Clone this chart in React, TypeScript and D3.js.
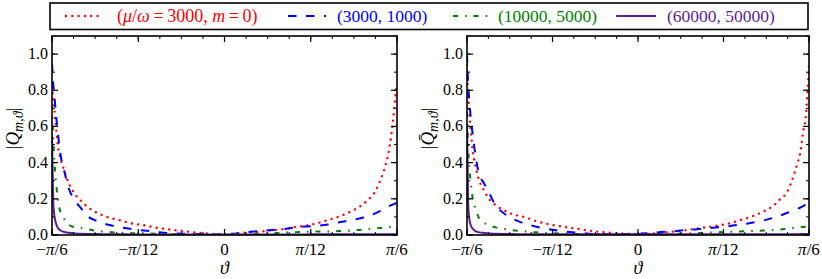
import React from "react";
import * as d3 from "d3";

// theta sample grid in degrees (−π/6 … π/6)
const thetaDeg = [-30, -29.8, -29.6, -29.4, -29, -28.5, -28, -27, -26, -25, -24, -22, -20, -18, -16, -14, -12, -10, -8, -6, -4, -2, 0, 2, 4, 6, 8, 10, 12, 14, 16, 18, 20, 22, 24, 25, 26, 27, 28, 28.5, 29, 29.4, 29.7, 30];

// left panel |Q_{m,θ}|
const qRed = [0.82, 0.76, 0.7, 0.63, 0.5, 0.42, 0.37, 0.28, 0.225, 0.19, 0.16, 0.12, 0.096, 0.08, 0.063, 0.054, 0.041, 0.032, 0.024, 0.017, 0.011, 0.006, 0.003, 0.008, 0.014, 0.018, 0.025, 0.032, 0.043, 0.051, 0.064, 0.083, 0.103, 0.13, 0.168, 0.195, 0.23, 0.295, 0.385, 0.45, 0.55, 0.66, 0.76, 0.84];
const qBlue = [0.95, 0.84, 0.78, 0.7, 0.57, 0.44, 0.37, 0.25, 0.19, 0.15, 0.11, 0.075, 0.055, 0.043, 0.032, 0.025, 0.018, 0.011, 0.008, 0.006, 0.004, 0.003, 0.003, 0.009, 0.016, 0.021, 0.027, 0.032, 0.04, 0.047, 0.051, 0.058, 0.07, 0.083, 0.095, 0.108, 0.117, 0.132, 0.15, 0.158, 0.165, 0.17, 0.174, 0.177];
const qGreen = [0.72, 0.55, 0.42, 0.33, 0.2, 0.125, 0.095, 0.055, 0.043, 0.04, 0.033, 0.022, 0.016, 0.013, 0.01, 0.009, 0.007, 0.005, 0.004, 0.003, 0.003, 0.002, 0.002, 0.004, 0.006, 0.008, 0.009, 0.012, 0.015, 0.017, 0.019, 0.019, 0.022, 0.024, 0.03, 0.032, 0.036, 0.039, 0.042, 0.044, 0.045, 0.046, 0.047, 0.048];
const qPurple = [0.55, 0.2, 0.11, 0.075, 0.04, 0.025, 0.018, 0.012, 0.009, 0.007, 0.006, 0.005, 0.004, 0.004, 0.003, 0.003, 0.003, 0.003, 0.003, 0.003, 0.003, 0.003, 0.003, 0.003, 0.003, 0.003, 0.003, 0.003, 0.003, 0.003, 0.004, 0.004, 0.004, 0.004, 0.004, 0.004, 0.004, 0.004, 0.004, 0.004, 0.004, 0.004, 0.004, 0.004];

// right panel |Q̄_{m,θ}|
const qBarRed = [0.94, 0.78, 0.68, 0.6, 0.47, 0.38, 0.315, 0.245, 0.195, 0.166, 0.145, 0.115, 0.1, 0.078, 0.062, 0.05, 0.04, 0.031, 0.022, 0.015, 0.01, 0.007, 0.005, 0.007, 0.012, 0.018, 0.025, 0.034, 0.043, 0.052, 0.064, 0.083, 0.103, 0.13, 0.168, 0.2, 0.23, 0.3, 0.4, 0.46, 0.574, 0.645, 0.77, 0.94];
const qBarBlue = [1.0, 0.83, 0.75, 0.67, 0.555, 0.44, 0.35, 0.285, 0.225, 0.165, 0.132, 0.09, 0.064, 0.047, 0.034, 0.024, 0.016, 0.011, 0.006, 0.005, 0.004, 0.005, 0.006, 0.011, 0.016, 0.02, 0.026, 0.031, 0.036, 0.043, 0.049, 0.058, 0.068, 0.08, 0.098, 0.108, 0.12, 0.132, 0.145, 0.152, 0.16, 0.168, 0.174, 0.18];
const qBarGreen = [0.68, 0.5, 0.38, 0.31, 0.2, 0.145, 0.1, 0.068, 0.053, 0.042, 0.036, 0.026, 0.02, 0.015, 0.011, 0.009, 0.007, 0.005, 0.004, 0.003, 0.003, 0.002, 0.003, 0.004, 0.005, 0.007, 0.008, 0.01, 0.013, 0.015, 0.018, 0.02, 0.022, 0.025, 0.029, 0.031, 0.034, 0.037, 0.041, 0.043, 0.044, 0.045, 0.046, 0.047];
const qBarPurple = [0.6, 0.18, 0.09, 0.06, 0.035, 0.022, 0.016, 0.011, 0.008, 0.007, 0.006, 0.005, 0.004, 0.004, 0.004, 0.004, 0.004, 0.004, 0.004, 0.004, 0.004, 0.004, 0.004, 0.004, 0.004, 0.004, 0.004, 0.004, 0.004, 0.004, 0.004, 0.004, 0.004, 0.004, 0.004, 0.004, 0.004, 0.004, 0.004, 0.005, 0.005, 0.005, 0.005, 0.005];

const xTickValues = [-30, -15, 0, 15, 30];
const xTickLabels = [["−", "π", "/6"], ["−", "π", "/12"], ["", "", "0"], ["", "π", "/12"], ["", "π", "/6"]];
const yTickValues = [0, 0.2, 0.4, 0.6, 0.8, 1.0];
const yTickLabels = ["0.0", "0.2", "0.4", "0.6", "0.8", "1.0"];

const colors = ["#ff0000", "#0000ff", "#008000", "#5a1e96"];
const dashes = ["0.01,6.3", "8.5,9.5", "5,7,1.6,7", null];

const FONT = "Liberation Serif, Times New Roman, DejaVu Serif, serif";

function txt(size: number, extra: React.CSSProperties = {}): React.CSSProperties {
  return { fontFamily: FONT, fontSize: size, ...extra };
}

function Panel({ x0, x1, series, bar, id }: { x0: number; x1: number; series: number[][]; bar: boolean; id: string }) {
  const top = 36;
  const bottom = 235;
  const x = d3.scaleLinear().domain([-30, 30]).range([x0, x1]);
  const y = d3.scaleLinear().domain([0, 1.1]).range([bottom, top]);
  const line = d3
    .line<[number, number]>()
    .x((d) => x(d[0]))
    .y((d) => y(d[1]))
    .curve(d3.curveMonotoneX);
  const minorX = d3.range(-30, 30.001, 3.75);
  const minorY = d3.range(0, 1.1001, 0.1);
  const majLen = 6;
  const minLen = 3;
  const labelX = x0 - 33;
  const labelY = (top + bottom) / 2 - 7;
  return (
    <g>
      <defs>
        <clipPath id={id}>
          <rect x={x0} y={top} width={x1 - x0} height={bottom - top} />
        </clipPath>
      </defs>
      <g clipPath={`url(#${id})`}>
        {series.map((vals, i) => (
          <path
            key={i}
            d={line(thetaDeg.map((t, k) => [t, vals[k]] as [number, number])) || ""}
            fill="none"
            stroke={colors[i]}
            strokeWidth={i === 0 ? 2.4 : 2}
            strokeDasharray={dashes[i] || undefined}
            strokeLinecap={i === 0 ? "round" : "butt"}
          />
        ))}
      </g>
      {minorX.map((v, i) => (
        <g key={"mx" + i}>
          <line x1={x(v)} x2={x(v)} y1={bottom} y2={bottom - minLen} stroke="#000" strokeWidth={1} />
          <line x1={x(v)} x2={x(v)} y1={top} y2={top + minLen} stroke="#000" strokeWidth={1} />
        </g>
      ))}
      {minorY.map((v, i) => (
        <g key={"my" + i}>
          <line x1={x0} x2={x0 + minLen} y1={y(v)} y2={y(v)} stroke="#000" strokeWidth={1} />
          <line x1={x1} x2={x1 - minLen} y1={y(v)} y2={y(v)} stroke="#000" strokeWidth={1} />
        </g>
      ))}
      {xTickValues.map((v, i) => (
        <g key={"x" + i}>
          <line x1={x(v)} x2={x(v)} y1={bottom} y2={bottom - majLen} stroke="#000" strokeWidth={1.2} />
          <line x1={x(v)} x2={x(v)} y1={top} y2={top + majLen} stroke="#000" strokeWidth={1.2} />
          <text x={x(v)} y={254.5} textAnchor="middle" fill="#000" style={txt(17)}>
            <tspan>{xTickLabels[i][0]}</tspan>
            <tspan fontStyle="italic">{xTickLabels[i][1]}</tspan>
            <tspan>{xTickLabels[i][2]}</tspan>
          </text>
        </g>
      ))}
      {yTickValues.map((v, i) => (
        <g key={"y" + i}>
          <line x1={x0} x2={x0 + majLen} y1={y(v)} y2={y(v)} stroke="#000" strokeWidth={1.2} />
          <line x1={x1} x2={x1 - majLen} y1={y(v)} y2={y(v)} stroke="#000" strokeWidth={1.2} />
          <text x={x0 - 4} y={y(v) + 5} textAnchor="end" fill="#000" style={txt(16)}>
            {yTickLabels[i]}
          </text>
        </g>
      ))}
      <rect x={x0} y={top} width={x1 - x0} height={bottom - top} fill="none" stroke="#000" strokeWidth={1.6} />
      <text x={(x0 + x1) / 2} y={274} textAnchor="middle" fill="#000" style={txt(18, { fontStyle: "italic" })}>
        ϑ
      </text>
      <text transform={`translate(${labelX},${labelY}) rotate(-90)`} textAnchor="middle" fill="#000" style={txt(19)}>
        <tspan>|</tspan>
        <tspan fontStyle="italic">{bar ? "Q\u0304" : "Q"}</tspan>
        <tspan fontStyle="italic" fontSize={14} dy={4}>
          m,ϑ
        </tspan>
        <tspan dy={-4}>|</tspan>
      </text>
    </g>
  );
}

function Legend() {
  const items = [
    { x1: 66, x2: 100, tx: 117 },
    { x1: 288, x2: 326, tx: 337 },
    { x1: 453, x2: 491, tx: 498 },
    { x1: 616, x2: 656, tx: 667 },
  ];
  const ly = 16;
  return (
    <g>
      <rect x={50} y={3} width={758} height={26.5} fill="#fff" stroke="#000" strokeWidth={1.6} />
      {items.map((it, i) => (
        <line
          key={i}
          x1={it.x1}
          x2={it.x2}
          y1={ly}
          y2={ly}
          stroke={colors[i]}
          strokeWidth={i === 0 ? 2.4 : 2}
          strokeDasharray={dashes[i] || undefined}
          strokeLinecap={i === 0 ? "round" : "butt"}
        />
      ))}
      <text x={items[0].tx} y={ly + 6} fill={colors[0]} style={txt(18)}>
        <tspan>(</tspan>
        <tspan fontStyle="italic">μ</tspan>
        <tspan>/</tspan>
        <tspan fontStyle="italic">ω</tspan>
        <tspan>{"\u2009=\u20093000, "}</tspan>
        <tspan fontStyle="italic">m</tspan>
        <tspan>{"\u2009=\u20090)"}</tspan>
      </text>
      <text x={items[1].tx} y={ly + 6} fill={colors[1]} style={txt(17.5)}>
        (3000, 1000)
      </text>
      <text x={items[2].tx} y={ly + 6} fill={colors[2]} style={txt(17.5)}>
        (10000, 5000)
      </text>
      <text x={items[3].tx} y={ly + 6} fill={colors[3]} style={txt(17.5)}>
        (60000, 50000)
      </text>
    </g>
  );
}

export default function App() {
  return (
    <svg width={822} height={279} style={{ position: "absolute", left: 0, top: 0, background: "#fff" }}>
      <rect x={0} y={0} width={822} height={279} fill="#fff" />
      <Legend />
      <Panel x0={52} x1={397} series={[qRed, qBlue, qGreen, qPurple]} bar={false} id="clipL" />
      <Panel x0={467} x1={809} series={[qBarRed, qBarBlue, qBarGreen, qBarPurple]} bar={true} id="clipR" />
    </svg>
  );
}
